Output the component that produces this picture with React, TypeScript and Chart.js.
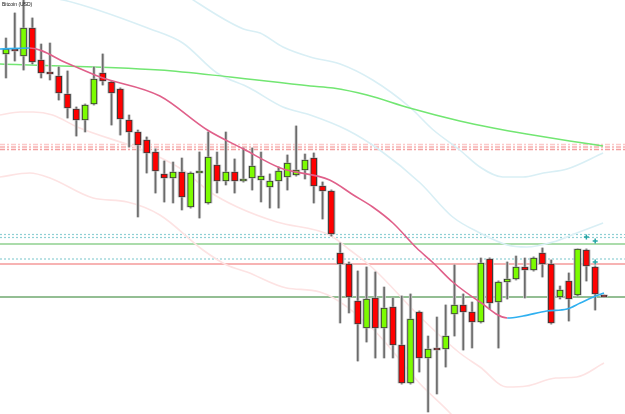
import { useEffect, useRef } from "react";
import { Chart, registerables } from "chart.js";

Chart.register(...registerables);

// Price levels are given in chart units: 0 = top edge, 414 = bottom edge (axis reversed).
const TITLE = "Bitcoin (USD)";

const OPEN = [54, 49, 56, 28, 60, 72, 76, 94, 109, 120, 104, 73, 82, 89, 120, 132, 140, 152, 174, 178, 172, 207, 173, 203, 165, 181, 172, 181, 178, 180, 187, 181, 177, 175, 170, 158, 186, 191, 253, 264, 301, 328, 298, 328, 307, 345, 383, 312, 358, 348, 349, 314, 305, 312, 322, 259, 302, 282, 279, 267, 270, 253, 264, 297, 281, 295, 250, 267, 295];
const HIGH = [38, 13, -2, 18, 44, 43, 67, 71, 107, 104, 67, 54, 81, 88, 115, 130, 137, 149, 161, 162, 158, 172, 152, 132, 152, 132, 159, 148, 148, 152, 174, 167, 155, 126, 154, 153, 182, 190, 243, 262, 271, 267, 272, 287, 298, 296, 294, 311, 336, 317, 305, 265, 294, 302, 258, 258, 281, 262, 256, 258, 257, 248, 260, 286, 273, 249, 249, 266, 295];
const LOW = [78, 61, 70, 64, 78, 80, 100, 118, 136, 132, 105, 85, 125, 135, 147, 217, 173, 193, 202, 203, 210, 208, 218, 204, 193, 185, 193, 182, 190, 202, 208, 208, 190, 176, 179, 203, 219, 236, 323, 313, 361, 342, 358, 358, 358, 384, 384, 372, 412, 394, 367, 336, 350, 348, 323, 309, 348, 299, 280, 298, 271, 277, 324, 299, 321, 296, 281, 310, 297];
const CLOSE = [49, 51, 28, 62, 73, 74, 93, 108, 120, 105, 79, 81, 93, 119, 132, 145, 153, 171, 178, 172, 197, 173, 171, 157, 181, 172, 181, 179, 166, 176, 181, 171, 163, 170, 160, 186, 191, 234, 264, 297, 324, 299, 328, 308, 345, 383, 319, 358, 349, 350, 336, 305, 312, 322, 263, 303, 282, 279, 267, 270, 258, 264, 323, 290, 299, 249, 266, 294, 297];

// [candle index, level]
const MA_TREND = [[-0.68, 49], [2.7, 48], [6.9, 63], [10.7, 77], [17.5, 96], [22.9, 130], [27, 149], [31.2, 168], [36.8, 180], [39.5, 195], [41.7, 207], [44, 223], [46.7, 248], [48.6, 263], [50.8, 282], [53.9, 302], [57, 318], [58.8, 316], [61.5, 311], [63.8, 309], [65.3, 303], [66.8, 297], [68, 293]];
const MA_SLOW = [[-0.68, 64], [17.5, 70], [25.5, 77], [34.6, 86], [37.2, 88], [41.05, 95], [45.9, 108], [51.6, 121], [55.4, 128], [59.2, 134], [64.1, 141], [67.9, 146]];
const BAND_UP2 = [[-0.68, -65], [10.7, -45], [17.5, -24], [21.3, 0], [27, 29], [28.9, 33], [31.5, 47], [34.6, 57], [38, 64], [41.7, 80], [45.9, 107], [48.6, 130], [51.6, 150], [53.9, 167], [56.5, 177], [58.8, 177], [61.1, 173], [63.8, 169], [67.9, 153]];
const BAND_UP1 = [[-0.68, -8], [6.5, 0], [16.4, 29], [20.1, 43], [24, 73], [27.7, 88], [31.5, 107], [34.6, 115], [38.8, 130], [42.5, 150], [47.1, 183], [50.8, 217], [53.9, 233], [57, 245], [59.2, 247], [62.2, 242], [64.9, 233], [67.9, 223]];
const BAND_LO1 = [[-0.68, 115], [1.6, 112], [3.1, 112], [5.3, 115], [8.1, 127], [16.4, 153], [20.1, 170], [23.2, 192], [26.3, 207], [30.8, 222], [36.8, 235], [39.1, 250], [41.7, 268], [47.1, 317], [51.6, 353], [53.9, 367], [57, 387], [59.2, 386], [62.5, 378], [64.9, 377], [68, 363]];
const BAND_LO2 = [[-0.68, 177], [2.7, 173], [5, 178], [9.9, 198], [13.8, 202], [17.5, 215], [22.4, 250], [25.1, 265], [27.4, 272], [31.9, 288], [35.7, 292], [41.7, 329], [47.1, 384], [50.8, 416], [52, 430]];

const LEVELS_DASHDOT = [144.5, 147, 149.5];
const LEVELS_DOTTED = [234.5, 237.5, 259];
const LEVEL_LIGHTGREEN = 244;
const LEVEL_RED = 264;
const LEVEL_GREEN = 297;
const MARKS = [[66, 237], [67, 241], [67, 262]];

const XMIN = -0.68;
const XMAX = 70.39;

const UP = "#7cfc00";
const DOWN = "#ff0000";
const PINK = "#e0608a";
const BLUE = "#2fb0f0";

const pts = (a: number[][]) => a.map(([x, y]) => ({ x, y }));

export default function App() {
  const ref = useRef<HTMLCanvasElement>(null);

  useEffect(() => {
    const idx = OPEN.map((_, i) => i);
    const body = idx.map((i) => ({ x: i, y: [OPEN[i], CLOSE[i]] }));
    const wick = idx.map((i) => ({ x: i, y: [HIGH[i], LOW[i]] }));
    const colors = idx.map((i) => (CLOSE[i] < OPEN[i] ? UP : DOWN));
    const hl = (y: number) => [{ x: XMIN, y }, { x: XMAX, y }];
    const base = { type: "line" as const, pointRadius: 0, pointHoverRadius: 0, fill: false };
    const bar = { type: "bar" as const, grouped: false, borderSkipped: false };

    const datasets: any[] = [
      {
        ...base,
        data: pts(MA_TREND),
        borderColor: PINK,
        borderWidth: 1.6,
        cubicInterpolationMode: "monotone",
        segment: {
          borderColor: (c: any) => (c.p1.parsed.y < c.p0.parsed.y ? BLUE : PINK),
        },
        order: 0,
      },
      {
        type: "scatter",
        data: pts(MARKS),
        pointStyle: "cross",
        pointRadius: 2.5,
        borderColor: "#25a5a5",
        borderWidth: 1.5,
        order: 0,
      },
      {
        ...bar,
        data: body,
        backgroundColor: colors,
        borderColor: "#3a3a3a",
        borderWidth: 1,
        barThickness: 6,
        maxBarThickness: 6,
        order: 1,
      },
      {
        ...bar,
        data: body,
        backgroundColor: "#c4c4c4",
        borderWidth: 0,
        barThickness: 7.6,
        maxBarThickness: 7.6,
        order: 2,
      },
      {
        ...bar,
        data: wick,
        backgroundColor: "#6b6b6b",
        borderWidth: 0,
        barThickness: 1,
        maxBarThickness: 1,
        order: 3,
      },
      {
        ...bar,
        data: wick,
        backgroundColor: "#cfcfcf",
        borderWidth: 0,
        barThickness: 2.6,
        maxBarThickness: 2.6,
        order: 4,
      },
      { ...base, data: pts(MA_SLOW), borderColor: "#72e672", borderWidth: 1.5, cubicInterpolationMode: "monotone", order: 5 },
      { ...base, data: pts(BAND_UP2), borderColor: "#d9eff5", borderWidth: 1.6, cubicInterpolationMode: "monotone", order: 6 },
      { ...base, data: pts(BAND_UP1), borderColor: "#d9eff5", borderWidth: 1.6, cubicInterpolationMode: "monotone", order: 6 },
      { ...base, data: pts(BAND_LO1), borderColor: "#fde3e3", borderWidth: 1.6, cubicInterpolationMode: "monotone", order: 6 },
      { ...base, data: pts(BAND_LO2), borderColor: "#fde3e3", borderWidth: 1.6, cubicInterpolationMode: "monotone", order: 6 },
      ...LEVELS_DASHDOT.map((y, k) => ({
        ...base,
        data: hl(y),
        borderColor: ["#fbcaca", "#f7b0b0", "#f3a0a0"][k],
        borderWidth: 1.5,
        borderDash: [5, 2, 2, 2],
        order: 7,
      })),
      ...LEVELS_DOTTED.map((y) => ({
        ...base,
        data: hl(y),
        borderColor: "#8fd0d4",
        borderWidth: 1.2,
        borderDash: [2, 2],
        order: 7,
      })),
      { ...base, data: hl(LEVEL_LIGHTGREEN), borderColor: "#8fd08f", borderWidth: 1.3, order: 7 },
      { ...base, data: hl(LEVEL_RED), borderColor: "#f49a9a", borderWidth: 1.3, order: 7 },
      { ...base, data: hl(LEVEL_GREEN), borderColor: "#6fa86f", borderWidth: 1.3, order: 7 },
    ];

    const chart = new Chart(ref.current as HTMLCanvasElement, {
      type: "bar",
      data: { datasets },
      options: {
        responsive: false,
        animation: false,
        devicePixelRatio: 1,
        events: [],
        layout: { padding: 0, autoPadding: false },
        plugins: {
          legend: { display: false },
          tooltip: { enabled: false },
          title: { display: false },
        },
        scales: {
          x: { type: "linear", min: XMIN, max: XMAX, display: false, offset: false },
          y: { type: "linear", min: 0, max: 414, reverse: true, display: false },
        },
      } as any,
    });
    return () => chart.destroy();
  }, []);

  return (
    <div style={{ position: "fixed", left: 0, top: 0, width: 625, height: 414, background: "#fff" }}>
      <canvas ref={ref} width={625} height={414} style={{ display: "block", width: 625, height: 414 }} />
      <div
        style={{
          position: "absolute",
          left: 2,
          top: 1,
          font: '5px "Liberation Sans", Arial, sans-serif',
          color: "#111",
          whiteSpace: "nowrap",
        }}
      >
        {TITLE}
      </div>
    </div>
  );
}
